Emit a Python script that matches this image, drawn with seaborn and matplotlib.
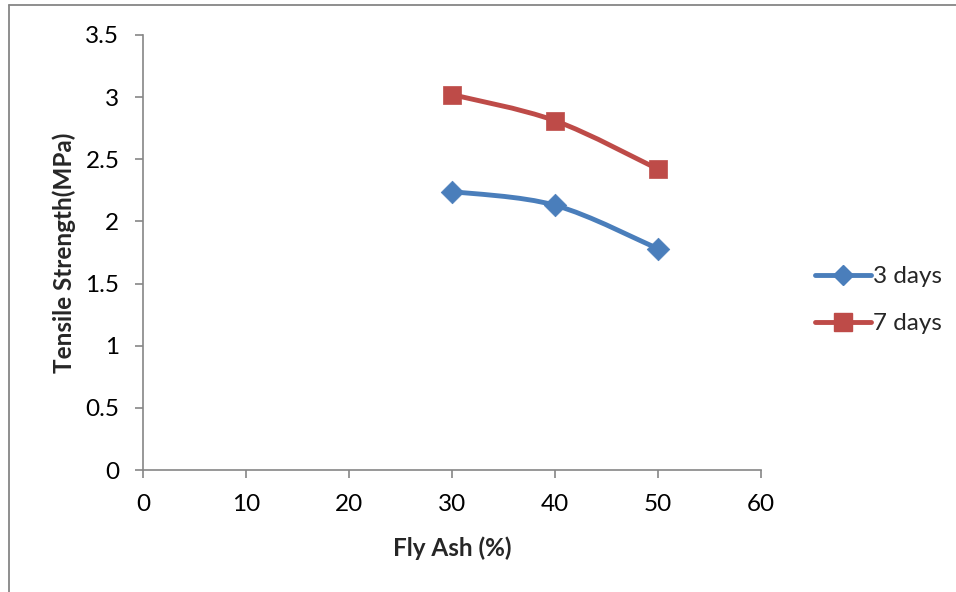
import numpy as np
import pandas as pd
import matplotlib
matplotlib.use("Agg")
import matplotlib.pyplot as plt
import seaborn as sns
from matplotlib.path import Path
from matplotlib.patches import PathPatch
from matplotlib.lines import Line2D

fly_ash = [30, 40, 50]
days3 = [2.24, 2.13, 1.78]
days7 = [3.02, 2.81, 2.42]
series_names = ["3 days", "7 days"]
x_ticks = [0, 10, 20, 30, 40, 50, 60]
y_ticks = [0, 0.5, 1, 1.5, 2, 2.5, 3, 3.5]
y_tick_labels = ["0", "0.5", "1", "1.5", "2", "2.5", "3", "3.5"]

sns.set_theme(style="white")
plt.rcParams["font.family"] = ["Lato", "DejaVu Sans"]

df = pd.DataFrame({
    "Fly Ash": fly_ash * 2,
    "Strength": days3 + days7,
    "Series": [series_names[0]] * 3 + [series_names[1]] * 3,
})

colors = {"3 days": "#4a7ebb", "7 days": "#be4b48"}
markers = {"3 days": "D", "7 days": "s"}
msizes = {"3 days": 11.5, "7 days": 13.5}
fs = 17.5
lw = 3.5

fig = plt.figure(figsize=(9.56, 5.92), dpi=100)
ax = fig.add_axes([0.1496, 0.206, 0.6465, 0.735])

def smooth_path(xs, ys):
    pts = np.column_stack([xs, ys]).astype(float)
    n = len(pts)
    verts = [pts[0]]
    codes = [Path.MOVETO]
    for i in range(n - 1):
        p0 = pts[i - 1] if i > 0 else pts[i]
        p1 = pts[i]
        p2 = pts[i + 1]
        p3 = pts[i + 2] if i + 2 < n else pts[i + 1]
        c1 = p1 + (p2 - p0) / 6.0
        c2 = p2 - (p3 - p1) / 6.0
        verts += [c1, c2, p2]
        codes += [Path.CURVE4] * 3
    return Path(verts, codes)

for name in series_names:
    sub = df[df["Series"] == name]
    ax.add_patch(PathPatch(smooth_path(sub["Fly Ash"].values, sub["Strength"].values),
                           fill=False, edgecolor=colors[name], lw=lw,
                           capstyle="round", joinstyle="round", zorder=2))
    sns.scatterplot(data=sub, x="Fly Ash", y="Strength", ax=ax, marker=markers[name],
                    s=msizes[name] ** 2, color=colors[name], edgecolor=colors[name],
                    linewidth=0.5, zorder=3, legend=False)

ax.set_xlim(0, 60)
ax.set_ylim(0, 3.5)
ax.set_xticks(x_ticks)
ax.set_xticklabels([str(t) for t in x_ticks])
ax.set_yticks(y_ticks)
ax.set_yticklabels(y_tick_labels)

axis_color = "#868686"
for side in ["top", "right"]:
    ax.spines[side].set_visible(False)
for side in ["left", "bottom"]:
    ax.spines[side].set_visible(True)
    ax.spines[side].set_color(axis_color)
    ax.spines[side].set_linewidth(1.2)
ax.tick_params(axis="both", which="major", direction="out", length=6, width=1.2,
               color=axis_color, labelsize=fs, labelcolor="black",
               bottom=True, left=True)
ax.tick_params(axis="y", pad=11)
ax.tick_params(axis="x", pad=11)
ax.grid(False)

ax.set_xlabel("Fly Ash (%)", fontsize=fs, fontweight="bold", labelpad=16)
ax.set_ylabel("Tensile Strength(MPa)", fontsize=fs, fontweight="bold", labelpad=7)

handles = [Line2D([0], [0], color=colors[n], lw=lw, marker=markers[n],
                  markersize=msizes[n] * 0.92,
                  markerfacecolor=colors[n], markeredgecolor=colors[n],
                  solid_capstyle="round") for n in series_names]
fig.legend(handles, series_names, loc="center left", bbox_to_anchor=(0.842, 0.493),
           frameon=False, fontsize=fs, handlelength=2.3, handletextpad=0.1,
           labelspacing=1.08, borderaxespad=0)

# outer border (top and left visible in the cropped reference)
border_color = "#868686"
fig.add_artist(Line2D([0.0094, 0.0094], [0.0, 0.991], transform=fig.transFigure,
                      color=border_color, lw=1.3))
fig.add_artist(Line2D([0.0094, 1.0], [0.991, 0.991], transform=fig.transFigure,
                      color=border_color, lw=1.3))

fig.savefig("out.png", dpi=100, facecolor="white")
